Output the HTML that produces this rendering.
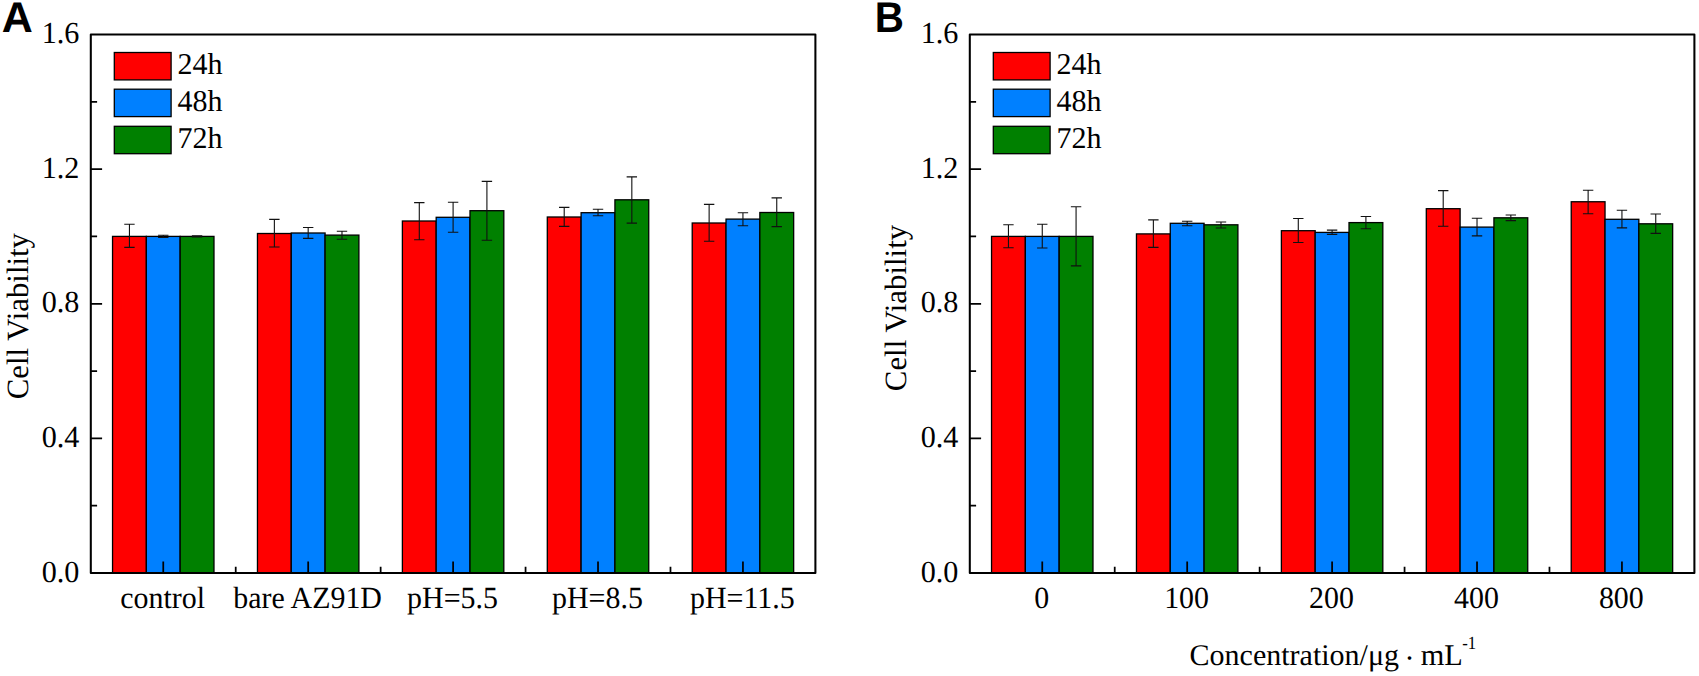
<!DOCTYPE html>
<html lang="en"><head><meta charset="utf-8"><title>Cell Viability</title>
<style>html,body{margin:0;padding:0;background:#fff;width:1699px;height:676px;overflow:hidden}
svg.fig{display:block;font-family:"Liberation Serif", serif;font-size:31.4px;fill:#000}
svg.fig text{fill:#000;text-rendering:geometricPrecision}</style>
</head><body>
<svg width="1699" height="676" viewBox="0 0 1699 676" class="fig">
<rect width="1699" height="676" fill="#fff"/>
<rect x="112.54" y="236.40" width="33.81" height="336.60" fill="#ff0000" stroke="#000" stroke-width="1.3"/>
<rect x="146.35" y="236.40" width="33.81" height="336.60" fill="#0080ff" stroke="#000" stroke-width="1.3"/>
<rect x="180.17" y="236.40" width="33.81" height="336.60" fill="#008000" stroke="#000" stroke-width="1.3"/>
<rect x="257.46" y="233.50" width="33.81" height="339.50" fill="#ff0000" stroke="#000" stroke-width="1.3"/>
<rect x="291.27" y="233.00" width="33.81" height="340.00" fill="#0080ff" stroke="#000" stroke-width="1.3"/>
<rect x="325.09" y="235.10" width="33.81" height="337.90" fill="#008000" stroke="#000" stroke-width="1.3"/>
<rect x="402.38" y="221.00" width="33.81" height="352.00" fill="#ff0000" stroke="#000" stroke-width="1.3"/>
<rect x="436.19" y="217.30" width="33.81" height="355.70" fill="#0080ff" stroke="#000" stroke-width="1.3"/>
<rect x="470.01" y="210.70" width="33.81" height="362.30" fill="#008000" stroke="#000" stroke-width="1.3"/>
<rect x="547.30" y="217.00" width="33.81" height="356.00" fill="#ff0000" stroke="#000" stroke-width="1.3"/>
<rect x="581.11" y="212.70" width="33.81" height="360.30" fill="#0080ff" stroke="#000" stroke-width="1.3"/>
<rect x="614.93" y="199.80" width="33.81" height="373.20" fill="#008000" stroke="#000" stroke-width="1.3"/>
<rect x="692.22" y="223.00" width="33.81" height="350.00" fill="#ff0000" stroke="#000" stroke-width="1.3"/>
<rect x="726.03" y="219.10" width="33.81" height="353.90" fill="#0080ff" stroke="#000" stroke-width="1.3"/>
<rect x="759.85" y="212.50" width="33.81" height="360.50" fill="#008000" stroke="#000" stroke-width="1.3"/>
<path d="M129.45 224.30V247.40M124.25 224.30h10.4M124.25 247.40h10.4" stroke="#111" stroke-width="1.1" fill="none"/>
<path d="M163.26 235.30V237.50M158.06 235.30h10.4M158.06 237.50h10.4" stroke="#111" stroke-width="1.1" fill="none"/>
<path d="M197.07 235.90V236.90M191.87 235.90h10.4M191.87 236.90h10.4" stroke="#111" stroke-width="1.1" fill="none"/>
<path d="M274.37 219.40V247.00M269.17 219.40h10.4M269.17 247.00h10.4" stroke="#111" stroke-width="1.1" fill="none"/>
<path d="M308.18 227.50V238.40M302.98 227.50h10.4M302.98 238.40h10.4" stroke="#111" stroke-width="1.1" fill="none"/>
<path d="M341.99 231.30V239.25M336.79 231.30h10.4M336.79 239.25h10.4" stroke="#111" stroke-width="1.1" fill="none"/>
<path d="M419.29 202.60V239.70M414.09 202.60h10.4M414.09 239.70h10.4" stroke="#111" stroke-width="1.1" fill="none"/>
<path d="M453.10 202.20V232.20M447.90 202.20h10.4M447.90 232.20h10.4" stroke="#111" stroke-width="1.1" fill="none"/>
<path d="M486.91 181.40V240.20M481.71 181.40h10.4M481.71 240.20h10.4" stroke="#111" stroke-width="1.1" fill="none"/>
<path d="M564.21 207.40V226.40M559.01 207.40h10.4M559.01 226.40h10.4" stroke="#111" stroke-width="1.1" fill="none"/>
<path d="M598.02 209.20V215.70M592.82 209.20h10.4M592.82 215.70h10.4" stroke="#111" stroke-width="1.1" fill="none"/>
<path d="M631.83 176.90V223.10M626.63 176.90h10.4M626.63 223.10h10.4" stroke="#111" stroke-width="1.1" fill="none"/>
<path d="M709.13 204.40V241.30M703.93 204.40h10.4M703.93 241.30h10.4" stroke="#111" stroke-width="1.1" fill="none"/>
<path d="M742.94 212.80V225.80M737.74 212.80h10.4M737.74 225.80h10.4" stroke="#111" stroke-width="1.1" fill="none"/>
<path d="M776.75 197.90V226.60M771.55 197.90h10.4M771.55 226.60h10.4" stroke="#111" stroke-width="1.1" fill="none"/>
<path d="M90.80 505.69h6.3M90.80 438.38h11.3M90.80 371.06h6.3M90.80 303.75h11.3M90.80 236.44h6.3M90.80 169.12h11.3M90.80 101.81h6.3M163.26 573.0v-11.4M235.72 573.0v-6.3M308.18 573.0v-11.4M380.64 573.0v-6.3M453.10 573.0v-11.4M525.56 573.0v-6.3M598.02 573.0v-11.4M670.48 573.0v-6.3M742.94 573.0v-11.4" stroke="#000" stroke-width="1.75" fill="none"/>
<rect x="90.80" y="34.5" width="724.60" height="538.5" fill="none" stroke="#000" stroke-width="2.05" stroke-linejoin="round"/>
<text transform="translate(79.40 581.70) scale(0.985 1)" text-anchor="end" style="font-size:30.6px">0.0</text>
<text transform="translate(79.40 447.07) scale(0.985 1)" text-anchor="end" style="font-size:30.6px">0.4</text>
<text transform="translate(79.40 312.45) scale(0.985 1)" text-anchor="end" style="font-size:30.6px">0.8</text>
<text transform="translate(79.40 177.83) scale(0.985 1)" text-anchor="end" style="font-size:30.6px">1.2</text>
<text transform="translate(79.40 43.20) scale(0.985 1)" text-anchor="end" style="font-size:30.6px">1.6</text>
<text transform="translate(162.66 607.90) scale(0.972 1)" text-anchor="middle" style="font-size:30.8px">control</text>
<text transform="translate(307.58 607.90) scale(0.972 1)" text-anchor="middle" style="font-size:30.8px">bare AZ91D</text>
<text transform="translate(452.50 607.90) scale(0.972 1)" text-anchor="middle" style="font-size:30.8px">pH=5.5</text>
<text transform="translate(597.42 607.90) scale(0.972 1)" text-anchor="middle" style="font-size:30.8px">pH=8.5</text>
<text transform="translate(742.34 607.90) scale(0.972 1)" text-anchor="middle" style="font-size:30.8px">pH=11.5</text>
<text transform="translate(27.60 316.10) rotate(-90) scale(0.998 1)" text-anchor="middle" style="font-size:30.9px">Cell Viability</text>
<rect x="114.30" y="52.50" width="56.8" height="27.4" fill="#ff0000" stroke="#000" stroke-width="1.3"/>
<text transform="translate(177.60 74.20) scale(0.994 1)" style="font-size:30.2px">24h</text>
<rect x="114.30" y="89.20" width="56.8" height="27.4" fill="#0080ff" stroke="#000" stroke-width="1.3"/>
<text transform="translate(177.60 110.90) scale(0.994 1)" style="font-size:30.2px">48h</text>
<rect x="114.30" y="126.30" width="56.8" height="27.4" fill="#008000" stroke="#000" stroke-width="1.3"/>
<text transform="translate(177.60 148.00) scale(0.994 1)" style="font-size:30.2px">72h</text>
<text x="1.8" y="32.2" style="font-family:'Liberation Sans',sans-serif;font-weight:bold;font-size:43.0px">A</text>
<rect x="991.54" y="236.40" width="33.81" height="336.60" fill="#ff0000" stroke="#000" stroke-width="1.3"/>
<rect x="1025.35" y="236.40" width="33.81" height="336.60" fill="#0080ff" stroke="#000" stroke-width="1.3"/>
<rect x="1059.17" y="236.40" width="33.81" height="336.60" fill="#008000" stroke="#000" stroke-width="1.3"/>
<rect x="1136.46" y="233.90" width="33.81" height="339.10" fill="#ff0000" stroke="#000" stroke-width="1.3"/>
<rect x="1170.27" y="223.30" width="33.81" height="349.70" fill="#0080ff" stroke="#000" stroke-width="1.3"/>
<rect x="1204.09" y="224.80" width="33.81" height="348.20" fill="#008000" stroke="#000" stroke-width="1.3"/>
<rect x="1281.38" y="230.70" width="33.81" height="342.30" fill="#ff0000" stroke="#000" stroke-width="1.3"/>
<rect x="1315.19" y="232.40" width="33.81" height="340.60" fill="#0080ff" stroke="#000" stroke-width="1.3"/>
<rect x="1349.01" y="222.60" width="33.81" height="350.40" fill="#008000" stroke="#000" stroke-width="1.3"/>
<rect x="1426.30" y="208.70" width="33.81" height="364.30" fill="#ff0000" stroke="#000" stroke-width="1.3"/>
<rect x="1460.11" y="227.10" width="33.81" height="345.90" fill="#0080ff" stroke="#000" stroke-width="1.3"/>
<rect x="1493.93" y="217.80" width="33.81" height="355.20" fill="#008000" stroke="#000" stroke-width="1.3"/>
<rect x="1571.22" y="201.75" width="33.81" height="371.25" fill="#ff0000" stroke="#000" stroke-width="1.3"/>
<rect x="1605.03" y="219.30" width="33.81" height="353.70" fill="#0080ff" stroke="#000" stroke-width="1.3"/>
<rect x="1638.85" y="223.80" width="33.81" height="349.20" fill="#008000" stroke="#000" stroke-width="1.3"/>
<path d="M1008.45 224.80V247.70M1003.25 224.80h10.4M1003.25 247.70h10.4" stroke="#111" stroke-width="1.1" fill="none"/>
<path d="M1042.26 224.30V248.00M1037.06 224.30h10.4M1037.06 248.00h10.4" stroke="#111" stroke-width="1.1" fill="none"/>
<path d="M1076.07 206.80V265.90M1070.87 206.80h10.4M1070.87 265.90h10.4" stroke="#111" stroke-width="1.1" fill="none"/>
<path d="M1153.37 219.90V247.40M1148.17 219.90h10.4M1148.17 247.40h10.4" stroke="#111" stroke-width="1.1" fill="none"/>
<path d="M1187.18 221.20V225.70M1181.98 221.20h10.4M1181.98 225.70h10.4" stroke="#111" stroke-width="1.1" fill="none"/>
<path d="M1220.99 222.00V228.00M1215.79 222.00h10.4M1215.79 228.00h10.4" stroke="#111" stroke-width="1.1" fill="none"/>
<path d="M1298.29 218.50V242.50M1293.09 218.50h10.4M1293.09 242.50h10.4" stroke="#111" stroke-width="1.1" fill="none"/>
<path d="M1332.10 230.10V234.40M1326.90 230.10h10.4M1326.90 234.40h10.4" stroke="#111" stroke-width="1.1" fill="none"/>
<path d="M1365.91 216.50V228.80M1360.71 216.50h10.4M1360.71 228.80h10.4" stroke="#111" stroke-width="1.1" fill="none"/>
<path d="M1443.21 190.60V226.30M1438.01 190.60h10.4M1438.01 226.30h10.4" stroke="#111" stroke-width="1.1" fill="none"/>
<path d="M1477.02 218.30V235.90M1471.82 218.30h10.4M1471.82 235.90h10.4" stroke="#111" stroke-width="1.1" fill="none"/>
<path d="M1510.83 215.00V220.60M1505.63 215.00h10.4M1505.63 220.60h10.4" stroke="#111" stroke-width="1.1" fill="none"/>
<path d="M1588.13 190.20V213.80M1582.93 190.20h10.4M1582.93 213.80h10.4" stroke="#111" stroke-width="1.1" fill="none"/>
<path d="M1621.94 210.20V227.90M1616.74 210.20h10.4M1616.74 227.90h10.4" stroke="#111" stroke-width="1.1" fill="none"/>
<path d="M1655.75 214.00V233.40M1650.55 214.00h10.4M1650.55 233.40h10.4" stroke="#111" stroke-width="1.1" fill="none"/>
<path d="M969.80 505.69h6.3M969.80 438.38h11.3M969.80 371.06h6.3M969.80 303.75h11.3M969.80 236.44h6.3M969.80 169.12h11.3M969.80 101.81h6.3M1042.26 573.0v-11.4M1114.72 573.0v-6.3M1187.18 573.0v-11.4M1259.64 573.0v-6.3M1332.10 573.0v-11.4M1404.56 573.0v-6.3M1477.02 573.0v-11.4M1549.48 573.0v-6.3M1621.94 573.0v-11.4" stroke="#000" stroke-width="1.75" fill="none"/>
<rect x="969.80" y="34.5" width="724.60" height="538.5" fill="none" stroke="#000" stroke-width="2.05" stroke-linejoin="round"/>
<text transform="translate(958.40 581.70) scale(0.985 1)" text-anchor="end" style="font-size:30.6px">0.0</text>
<text transform="translate(958.40 447.07) scale(0.985 1)" text-anchor="end" style="font-size:30.6px">0.4</text>
<text transform="translate(958.40 312.45) scale(0.985 1)" text-anchor="end" style="font-size:30.6px">0.8</text>
<text transform="translate(958.40 177.83) scale(0.985 1)" text-anchor="end" style="font-size:30.6px">1.2</text>
<text transform="translate(958.40 43.20) scale(0.985 1)" text-anchor="end" style="font-size:30.6px">1.6</text>
<text transform="translate(1041.66 607.90) scale(0.972 1)" text-anchor="middle" style="font-size:30.8px">0</text>
<text transform="translate(1186.58 607.90) scale(0.972 1)" text-anchor="middle" style="font-size:30.8px">100</text>
<text transform="translate(1331.50 607.90) scale(0.972 1)" text-anchor="middle" style="font-size:30.8px">200</text>
<text transform="translate(1476.42 607.90) scale(0.972 1)" text-anchor="middle" style="font-size:30.8px">400</text>
<text transform="translate(1621.34 607.90) scale(0.972 1)" text-anchor="middle" style="font-size:30.8px">800</text>
<text transform="translate(906.30 308.00) rotate(-90) scale(0.998 1)" text-anchor="middle" style="font-size:30.9px">Cell Viability</text>
<rect x="993.30" y="52.50" width="56.8" height="27.4" fill="#ff0000" stroke="#000" stroke-width="1.3"/>
<text transform="translate(1056.60 74.20) scale(0.994 1)" style="font-size:30.2px">24h</text>
<rect x="993.30" y="89.20" width="56.8" height="27.4" fill="#0080ff" stroke="#000" stroke-width="1.3"/>
<text transform="translate(1056.60 110.90) scale(0.994 1)" style="font-size:30.2px">48h</text>
<rect x="993.30" y="126.30" width="56.8" height="27.4" fill="#008000" stroke="#000" stroke-width="1.3"/>
<text transform="translate(1056.60 148.00) scale(0.994 1)" style="font-size:30.2px">72h</text>
<text transform="translate(889.4 32.2) scale(0.94 1)" text-anchor="middle" style="font-family:'Liberation Sans',sans-serif;font-weight:bold;font-size:43.0px">B</text>
<text transform="translate(1189.60 665.40) scale(1.0 1)" style="font-size:30.0px">Concentration/μg</text><text transform="translate(1409.50 667.90) scale(1.0 1)" text-anchor="middle" style="font-size:30.0px">·</text><text transform="translate(1420.80 665.40) scale(1.01 1)" style="font-size:30.0px">mL</text><text transform="translate(1462.20 649.40) scale(0.9 1)" style="font-size:18.6px">-1</text>
</svg>
</body></html>
